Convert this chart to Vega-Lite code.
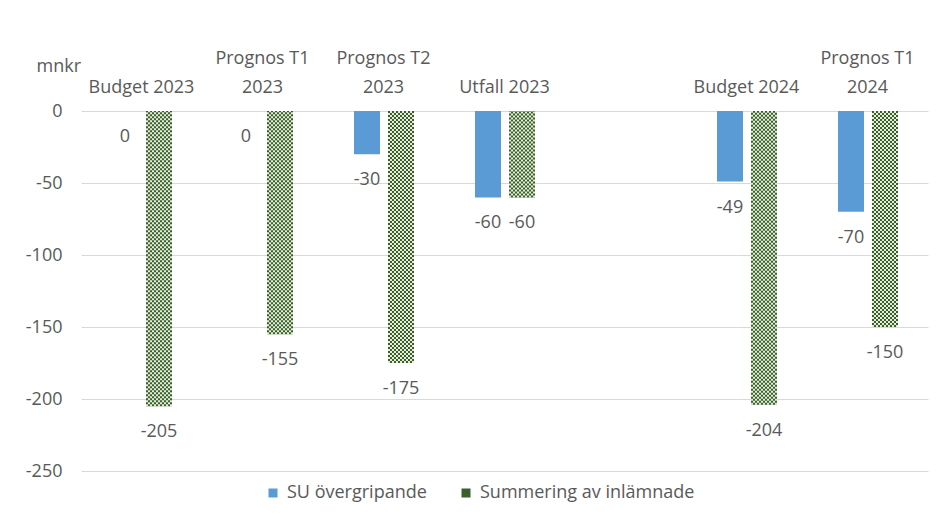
{
  "$schema": "https://vega.github.io/schema/vega-lite/v6.json",
  "width": 847,
  "height": 360,
  "autosize": {"type": "none"},
  "padding": {"left": 81, "top": 111, "right": 10, "bottom": 51},
  "background": "white",
  "config": {
    "view": {"stroke": null},
    "font": "Open Sans",
    "text": {"font": "Open Sans"}
  },
  "data": {
    "values": [
      {"cat": "Budget 2023", "series": "SU övergripande", "value": 0},
      {"cat": "Budget 2023", "series": "Summering av inlämnade", "value": -205},
      {"cat": "Prognos T1 2023", "series": "SU övergripande", "value": 0},
      {"cat": "Prognos T1 2023", "series": "Summering av inlämnade", "value": -155},
      {"cat": "Prognos T2 2023", "series": "SU övergripande", "value": -30},
      {"cat": "Prognos T2 2023", "series": "Summering av inlämnade", "value": -175},
      {"cat": "Utfall 2023", "series": "SU övergripande", "value": -60},
      {"cat": "Utfall 2023", "series": "Summering av inlämnade", "value": -60},
      {"cat": "Budget 2024", "series": "SU övergripande", "value": -49},
      {"cat": "Budget 2024", "series": "Summering av inlämnade", "value": -204},
      {"cat": "Prognos T1 2024", "series": "SU övergripande", "value": -70},
      {"cat": "Prognos T1 2024", "series": "Summering av inlämnade", "value": -150}
    ]
  },
  "encoding": {
    "x": {
      "field": "cat",
      "type": "nominal",
      "sort": null,
      "scale": {
        "domain": ["Budget 2023", "Prognos T1 2023", "Prognos T2 2023", "Utfall 2023", " ", "Budget 2024", "Prognos T1 2024"],
        "paddingInner": 0,
        "paddingOuter": 0
      },
      "axis": {
        "orient": "top",
        "title": null,
        "domain": false,
        "ticks": false,
        "grid": false,
        "labelAngle": 0,
        "labelFontSize": 18,
        "labelFont": "Open Sans",
        "labelColor": "#595959",
        "labelPadding": 48,
        "labelBaseline": "alphabetic",
        "labelLineHeight": 29,
        "labelOverlap": false,
        "labelBound": false,
        "labelFlush": false,
        "labelLimit": 0,
        "labelExpr": "indexof(datum.value, 'Prognos') == 0 ? [substring(datum.value, 0, 10), substring(datum.value, 11)] : ['', datum.value]"
      }
    },
    "y": {
      "field": "value",
      "type": "quantitative",
      "scale": {"domain": [-250, 0], "nice": false, "zero": true},
      "axis": {
        "values": [0, -50, -100, -150, -200, -250],
        "domain": false,
        "ticks": false,
        "grid": true,
        "gridColor": "#d9d9d9",
        "gridWidth": 1,
        "labelFontSize": 18,
        "labelFont": "Open Sans",
        "labelColor": "#595959",
        "labelPadding": 19,
        "labelExpr": "'' + datum.value",
        "title": "mnkr",
        "titleFont": "Open Sans",
        "titleFontSize": 18,
        "titleFontWeight": "normal",
        "titleColor": "#595959",
        "titleAngle": 0,
        "titleAlign": "left",
        "titleBaseline": "alphabetic",
        "titleX": -45,
        "titleY": -40
      }
    }
  },
  "layer": [
    {
      "transform": [{"filter": "datum.series == 'SU övergripande'"}],
      "mark": {"type": "bar", "width": 26, "xOffset": -16.5},
      "encoding": {
        "color": {
          "field": "series",
          "type": "nominal",
          "scale": {"domain": ["SU övergripande", "Summering av inlämnade"], "range": ["#5b9bd5", "#3a5f2a"]},
          "legend": {
            "orient": "none",
            "legendX": 183,
            "legendY": 373,
            "direction": "horizontal",
            "title": null,
            "symbolType": "square",
            "symbolSize": 81,
            "symbolStrokeWidth": 0,
            "labelFont": "Open Sans",
            "labelFontSize": 18,
            "labelColor": "#595959",
            "labelOffset": 5,
            "labelLimit": 0,
            "columnPadding": 30,
            "padding": 0
          }
        }
      }
    },
    {
      "transform": [{"filter": "datum.series == 'Summering av inlämnade'"}],
      "mark": {"type": "bar", "width": 26, "xOffset": 17.5},
      "encoding": {
        "color": {"field": "series", "type": "nominal"}
      }
    },
    {"transform": [{"filter": "datum.series == 'Summering av inlämnade'"}], "mark": {"type": "rule", "color": "#e4eedb", "strokeWidth": 2, "strokeDash": [2, 2], "strokeDashOffset": 0, "xOffset": 5.5}, "encoding": {"y2": {"datum": 0}}},
    {"transform": [{"filter": "datum.series == 'Summering av inlämnade'"}], "mark": {"type": "rule", "color": "#e4eedb", "strokeWidth": 2, "strokeDash": [2, 2], "strokeDashOffset": 2, "xOffset": 7.5}, "encoding": {"y2": {"datum": 0}}},
    {"transform": [{"filter": "datum.series == 'Summering av inlämnade'"}], "mark": {"type": "rule", "color": "#e4eedb", "strokeWidth": 2, "strokeDash": [2, 2], "strokeDashOffset": 0, "xOffset": 9.5}, "encoding": {"y2": {"datum": 0}}},
    {"transform": [{"filter": "datum.series == 'Summering av inlämnade'"}], "mark": {"type": "rule", "color": "#e4eedb", "strokeWidth": 2, "strokeDash": [2, 2], "strokeDashOffset": 2, "xOffset": 11.5}, "encoding": {"y2": {"datum": 0}}},
    {"transform": [{"filter": "datum.series == 'Summering av inlämnade'"}], "mark": {"type": "rule", "color": "#e4eedb", "strokeWidth": 2, "strokeDash": [2, 2], "strokeDashOffset": 0, "xOffset": 13.5}, "encoding": {"y2": {"datum": 0}}},
    {"transform": [{"filter": "datum.series == 'Summering av inlämnade'"}], "mark": {"type": "rule", "color": "#e4eedb", "strokeWidth": 2, "strokeDash": [2, 2], "strokeDashOffset": 2, "xOffset": 15.5}, "encoding": {"y2": {"datum": 0}}},
    {"transform": [{"filter": "datum.series == 'Summering av inlämnade'"}], "mark": {"type": "rule", "color": "#e4eedb", "strokeWidth": 2, "strokeDash": [2, 2], "strokeDashOffset": 0, "xOffset": 17.5}, "encoding": {"y2": {"datum": 0}}},
    {"transform": [{"filter": "datum.series == 'Summering av inlämnade'"}], "mark": {"type": "rule", "color": "#e4eedb", "strokeWidth": 2, "strokeDash": [2, 2], "strokeDashOffset": 2, "xOffset": 19.5}, "encoding": {"y2": {"datum": 0}}},
    {"transform": [{"filter": "datum.series == 'Summering av inlämnade'"}], "mark": {"type": "rule", "color": "#e4eedb", "strokeWidth": 2, "strokeDash": [2, 2], "strokeDashOffset": 0, "xOffset": 21.5}, "encoding": {"y2": {"datum": 0}}},
    {"transform": [{"filter": "datum.series == 'Summering av inlämnade'"}], "mark": {"type": "rule", "color": "#e4eedb", "strokeWidth": 2, "strokeDash": [2, 2], "strokeDashOffset": 2, "xOffset": 23.5}, "encoding": {"y2": {"datum": 0}}},
    {"transform": [{"filter": "datum.series == 'Summering av inlämnade'"}], "mark": {"type": "rule", "color": "#e4eedb", "strokeWidth": 2, "strokeDash": [2, 2], "strokeDashOffset": 0, "xOffset": 25.5}, "encoding": {"y2": {"datum": 0}}},
    {"transform": [{"filter": "datum.series == 'Summering av inlämnade'"}], "mark": {"type": "rule", "color": "#e4eedb", "strokeWidth": 2, "strokeDash": [2, 2], "strokeDashOffset": 2, "xOffset": 27.5}, "encoding": {"y2": {"datum": 0}}},
    {"transform": [{"filter": "datum.series == 'Summering av inlämnade'"}], "mark": {"type": "rule", "color": "#e4eedb", "strokeWidth": 2, "strokeDash": [2, 2], "strokeDashOffset": 0, "xOffset": 29.5}, "encoding": {"y2": {"datum": 0}}},
    {
      "transform": [{"filter": "datum.series == 'SU övergripande'"}],
      "mark": {"type": "text", "xOffset": -16.5, "dy": 26, "baseline": "middle", "align": "center", "fontSize": 18, "font": "Open Sans", "color": "#595959"},
      "encoding": {"text": {"field": "value", "type": "nominal"}}
    },
    {
      "transform": [{"filter": "datum.series == 'Summering av inlämnade'"}],
      "mark": {"type": "text", "xOffset": 17.5, "dy": 26, "baseline": "middle", "align": "center", "fontSize": 18, "font": "Open Sans", "color": "#595959"},
      "encoding": {"text": {"field": "value", "type": "nominal"}}
    }
  ]
}
